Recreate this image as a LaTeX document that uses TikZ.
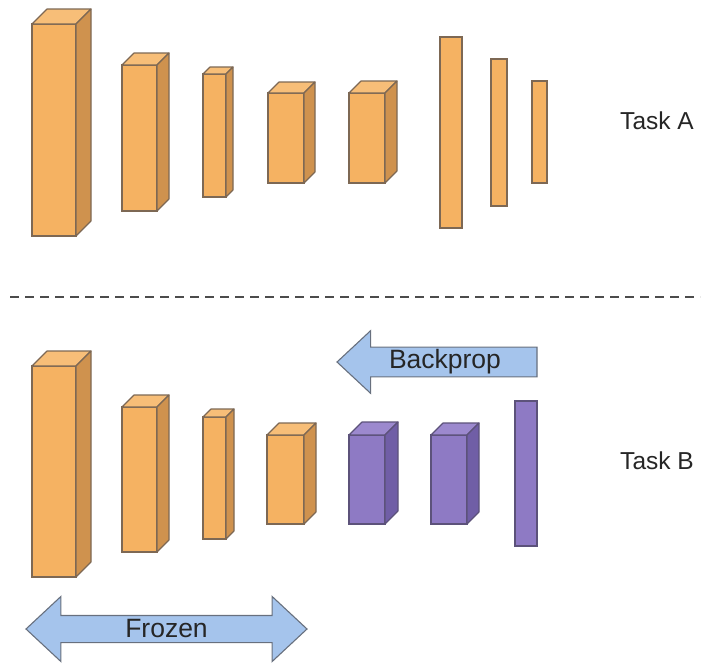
\documentclass[tikz,border=0pt]{standalone}
\usepackage{fontspec}
\setmainfont{Liberation Sans}
\usetikzlibrary{shapes.arrows,calc}
\definecolor{orfront}{RGB}{245,178,98}
\definecolor{orside}{RGB}{207,146,78}
\definecolor{ortop}{RGB}{247,190,120}
\definecolor{oredge}{RGB}{125,104,84}
\definecolor{pufront}{RGB}{142,122,196}
\definecolor{puside}{RGB}{112,94,166}
\definecolor{putop}{RGB}{156,137,206}
\definecolor{puedge}{RGB}{92,82,122}
\definecolor{arrfill}{RGB}{165,196,236}
\definecolor{arredge}{RGB}{104,112,126}
\tikzset{
  layer/.style   ={rectangle, line width=1.1pt, outer sep=0pt, inner sep=0pt},
  orlayer/.style ={layer, draw=oredge, fill=orfront},
  pulayer/.style ={layer, draw=puedge, fill=pufront},
  flowarrow/.style={line width=1.1pt, draw=arredge, fill=arrfill, inner sep=2pt,
                   text=black!85, font=\fontsize{26.5}{30}\selectfont},
  tasklabel/.style={font=\fontsize{24.5}{28}\selectfont, text=black!85, inner sep=0pt},
  divider/.style ={line width=2.6pt, draw=black!70, dash pattern=on 9pt off 6pt}
}
% top and side faces of a layer node: node, depth, palette
\newcommand{\slabfaces}[3]{%
  \filldraw[line width=1.1pt, draw=#3edge, fill=#3top, line join=round]
    (#1.north west) -- ++(#2,-#2) -- ($(#1.north east)+(#2,-#2)$) -- (#1.north east) -- cycle;
  \filldraw[line width=1.1pt, draw=#3edge, fill=#3side, line join=round]
    (#1.north east) -- ++(#2,-#2) -- ($(#1.south east)+(#2,-#2)$) -- (#1.south east) -- cycle;
}
\begin{document}
\begin{tikzpicture}[x=1pt, y=-1pt]
  \useasboundingbox (0,0) rectangle (702,662);

  % ---------------- Task A ----------------
  \node[orlayer, minimum width=44pt, minimum height=212pt] (a1) at (54,130)    {};
  \node[orlayer, minimum width=35pt, minimum height=146pt] (a2) at (139.5,138) {};
  \node[orlayer, minimum width=23pt, minimum height=123pt] (a3) at (214.5,135.5) {};
  \node[orlayer, minimum width=36pt, minimum height=90pt]  (a4) at (286,138)   {};
  \node[orlayer, minimum width=36pt, minimum height=90pt]  (a5) at (367,138)   {};
  \node[orlayer, minimum width=22pt, minimum height=191pt] (a6) at (451,132.5) {};
  \node[orlayer, minimum width=16pt, minimum height=147pt] (a7) at (499,132.5) {};
  \node[orlayer, minimum width=15pt, minimum height=102pt] (a8) at (539.5,132) {};
  \slabfaces{a1}{15}{or}
  \slabfaces{a2}{12}{or}
  \slabfaces{a3}{7}{or}
  \slabfaces{a4}{11}{or}
  \slabfaces{a5}{12}{or}
  \node[tasklabel] (taskA) at (657,121) {Task A};

  \draw[divider] (10,297) -- (700,297);

  % ---------------- Task B ----------------
  \node[orlayer, minimum width=44pt, minimum height=211pt] (b1) at (54,471.5)  {};
  \node[orlayer, minimum width=35pt, minimum height=145pt] (b2) at (139.5,479.5) {};
  \node[orlayer, minimum width=23pt, minimum height=122pt] (b3) at (214.5,478) {};
  \node[orlayer, minimum width=37pt, minimum height=89pt]  (b4) at (285.5,479.5) {};
  \node[pulayer, minimum width=36pt, minimum height=89pt]  (b5) at (367,479.5) {};
  \node[pulayer, minimum width=36pt, minimum height=89pt]  (b6) at (449,479.5) {};
  \node[pulayer, minimum width=22pt, minimum height=145pt] (b7) at (526,473.5) {};
  \slabfaces{b1}{15}{or}
  \slabfaces{b2}{12}{or}
  \slabfaces{b3}{8}{or}
  \slabfaces{b4}{12}{or}
  \slabfaces{b5}{13}{pu}
  \slabfaces{b6}{12}{pu}
  \node[tasklabel] (taskB) at (657,461) {Task B};

  % ---------------- Arrows ----------------
  \node[flowarrow, single arrow, shape border rotate=180, minimum height=200pt,
        minimum width=61pt, single arrow head extend=16.5pt,
        single arrow tip angle=86] (backprop) at (445,362) {Backprop};
  \node[flowarrow, double arrow, minimum height=281pt, minimum width=65pt,
        double arrow head extend=16.5pt, double arrow tip angle=86]
        (frozen) at (166.5,629) {Frozen};
\end{tikzpicture}
\end{document}
